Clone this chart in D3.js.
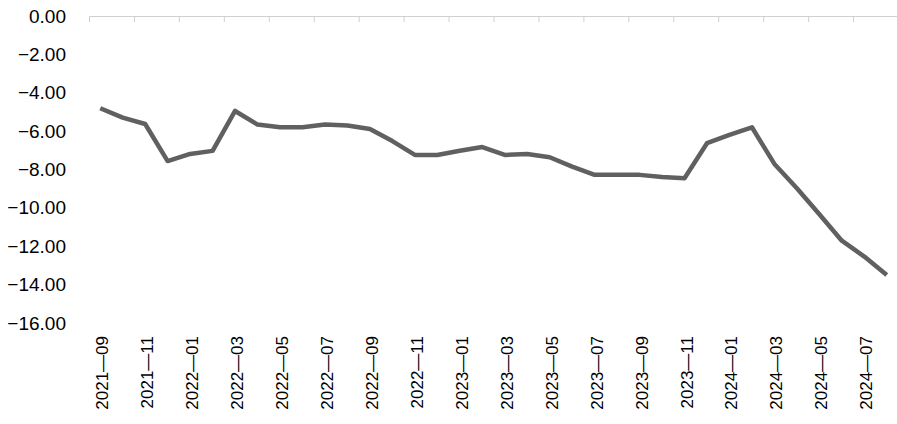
<!DOCTYPE html>
<html><head><meta charset="utf-8">
<script src="https://cdn.jsdelivr.net/npm/d3@7"></script>
<style>body{margin:0;background:#fff}svg{display:block}text{font-family:"Liberation Sans",Arial,sans-serif}</style>
</head><body>
<svg id="c" width="897" height="424"></svg>
<script>
const months = ["2021-09","2021-10","2021-11","2021-12","2022-01","2022-02","2022-03","2022-04","2022-05","2022-06","2022-07","2022-08","2022-09","2022-10","2022-11","2022-12","2023-01","2023-02","2023-03","2023-04","2023-05","2023-06","2023-07","2023-08","2023-09","2023-10","2023-11","2023-12","2024-01","2024-02","2024-03","2024-04","2024-05","2024-06","2024-07","2024-08"];
const values = [-4.81,-5.30,-5.63,-7.56,-7.19,-7.03,-4.95,-5.66,-5.80,-5.80,-5.65,-5.71,-5.89,-6.52,-7.24,-7.24,-7.02,-6.83,-7.24,-7.19,-7.36,-7.85,-8.28,-8.28,-8.28,-8.39,-8.46,-6.63,-6.20,-5.80,-7.71,-8.98,-10.33,-11.71,-12.54,-13.50];
const yTicks = [0,-2,-4,-6,-8,-10,-12,-14,-16];

const svg = d3.select("#c");
const x = d3.scaleBand().domain(months).range([89, 898]);
const y = d3.scaleLinear().domain([-16, 0]).range([323, 16]);

// y axis labels
const ya = svg.append("g").attr("transform","translate(66,0)")
  .call(d3.axisLeft(y).tickValues(yTicks).tickSize(0).tickPadding(0).tickFormat(d3.format(".2f")));
ya.select(".domain").remove();
ya.selectAll("text").attr("font-size",19).attr("fill","#000").attr("font-family","Liberation Sans, Arial, sans-serif");

// top category axis line at 0
const xa = svg.append("g").attr("transform",`translate(0,${y(0)})`)
  .call(d3.axisBottom(x).tickSize(0).tickFormat(""));
xa.select(".domain").attr("stroke","#d0d0d0").attr("stroke-width",1);
const tickIdx = months.map((m,i)=>i).filter(i=>i%2===0);
svg.append("g").selectAll("line").data(tickIdx).join("line")
  .attr("x1",i=>x(months[i])+0.5).attr("x2",i=>x(months[i])+0.5)
  .attr("y1",y(0)).attr("y2",y(0)+6)
  .attr("stroke","#d0d0d0").attr("stroke-width",1);

// rotated labels at bottom
svg.append("g").selectAll("text").data(tickIdx).join("text")
  .attr("transform",i=>`translate(${x(months[i])+x.bandwidth()/2+8},336) rotate(-90)`)
  .attr("text-anchor","end").attr("font-size",17).attr("fill","#000")
  .text(i=>months[i].replace("-","\u2014"));

// line
const line = d3.line().x((d,i)=>x(months[i])+x.bandwidth()/2).y(d=>y(d));
svg.append("path").datum(values).attr("d",line)
  .attr("fill","none").attr("stroke","#606060").attr("stroke-width",4.5)
  .attr("stroke-linejoin","round");
</script>
</body></html>
